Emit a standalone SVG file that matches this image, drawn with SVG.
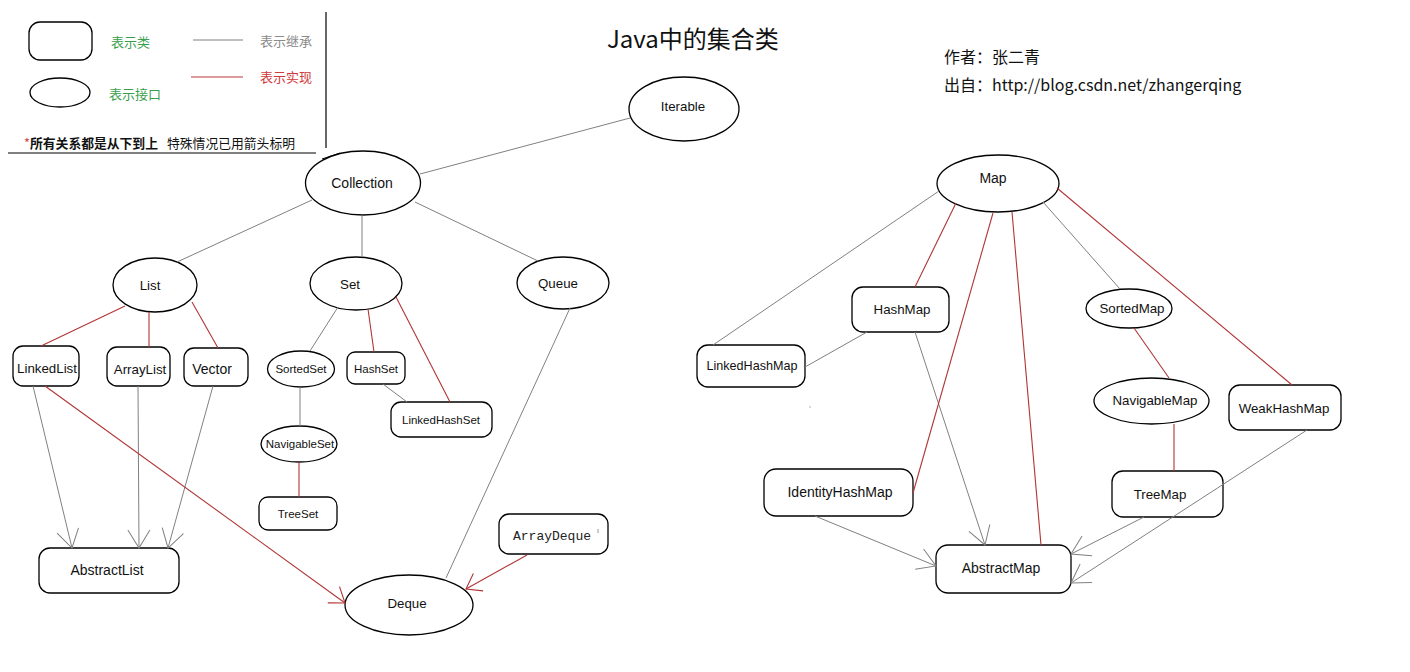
<svg xmlns="http://www.w3.org/2000/svg" width="1410" height="672" viewBox="0 0 1410 672">
<defs>
<style>
.n{fill:#fff;stroke:#000;stroke-width:1.3}
.t{font-family:"Liberation Sans",Arial,sans-serif;font-size:14px;fill:#111;text-anchor:middle}
.s13{font-size:13.3px}
.s12{font-size:12px}
.s11{font-size:11.5px}
.g{stroke:#808080;stroke-width:1;fill:none}
.r{stroke:#b03535;stroke-width:1.1;fill:none}
.cjk{font-family:"Noto Sans CJK SC","Noto Sans",sans-serif}
</style>
<marker id="ag" markerUnits="userSpaceOnUse" markerWidth="40" markerHeight="40" viewBox="-22 -20 24 40" refX="0" refY="0" orient="auto">
<path d="M-18,-11 L0,0 L-18,11" fill="none" stroke="#808080" stroke-width="1"/>
</marker>
<marker id="ar" markerUnits="userSpaceOnUse" markerWidth="40" markerHeight="40" viewBox="-22 -20 24 40" refX="0" refY="0" orient="auto">
<path d="M-14,-10 L0,0 L-14,10" fill="none" stroke="#b03535" stroke-width="1.1"/>
</marker>
</defs>
<rect width="1410" height="672" fill="#fff"/>

<g id="legend">
<rect class="n" x="29" y="22" width="63" height="38" rx="11"/>
<text class="cjk" x="111" y="47" font-size="13" fill="#3a9e4c">表示类</text>
<ellipse class="n" cx="60" cy="92.5" rx="30" ry="14.5"/>
<text class="cjk" x="109" y="99" font-size="13" fill="#3a9e4c">表示接口</text>
<line x1="193" y1="40" x2="243" y2="40" stroke="#808080" stroke-width="1"/>
<text class="cjk" x="260" y="46" font-size="13" fill="#8a8a8a">表示继承</text>
<line x1="191" y1="77" x2="243" y2="77" stroke="#c03838" stroke-width="1.1"/>
<text class="cjk" x="260" y="82" font-size="13" fill="#d03a3a">表示实现</text>
<text class="cjk" x="24" y="148" font-size="12.8" fill="#111"><tspan fill="#d03a3a">*</tspan><tspan font-weight="bold">所有关系都是从下到上</tspan><tspan x="167">特殊情况已用箭头标明</tspan></text>
<line x1="8" y1="153" x2="316" y2="153" stroke="#000" stroke-width="1.2"/>
<line x1="326" y1="12" x2="326" y2="148" stroke="#000" stroke-width="1.2"/>
<line x1="322" y1="159" x2="340" y2="153" stroke="#000" stroke-width="1"/>
</g>

<g id="title">
<text class="cjk" x="607" y="48" font-size="24" fill="#111">Java中的集合类</text>
</g>
<g id="author">
<text class="cjk" x="944" y="63" font-size="16" fill="#111">作者：张二青</text>
<text class="cjk" x="944" y="91" font-size="16" fill="#111">出自：http://blog.csdn.net/zhangerqing</text>
</g>

<g id="Iterable"><ellipse class="n" cx="684" cy="109" rx="55" ry="32"/><text class="t s13" x="683" y="111">Iterable</text></g>
<g id="Collection"><ellipse class="n" cx="363" cy="183" rx="57.5" ry="32"/><text class="t" x="362" y="188">Collection</text></g>
<g id="List"><ellipse class="n" cx="155" cy="285" rx="42" ry="27"/><text class="t s13" x="150" y="290">List</text></g>
<g id="Set"><ellipse class="n" cx="356" cy="283.5" rx="46" ry="26.5"/><text class="t s13" x="350" y="289">Set</text></g>
<g id="Queue"><ellipse class="n" cx="563" cy="283" rx="46" ry="26"/><text class="t s13" x="558" y="288">Queue</text></g>
<g id="LinkedList"><rect class="n" x="13" y="346" width="66" height="40" rx="10"/><text class="t s13" x="47" y="373">LinkedList</text></g>
<g id="ArrayList"><rect class="n" x="107" y="347" width="63" height="39" rx="10"/><text class="t s13" x="140" y="374">ArrayList</text></g>
<g id="Vector"><rect class="n" x="184" y="348" width="64" height="38" rx="10"/><text class="t" x="212" y="374">Vector</text></g>
<g id="SortedSet"><ellipse class="n" cx="301" cy="369" rx="33.5" ry="18"/><text class="t s11" x="301" y="373">SortedSet</text></g>
<g id="HashSet"><rect class="n" x="347" y="352" width="58" height="32" rx="8"/><text class="t s11" x="376" y="373">HashSet</text></g>
<g id="LinkedHashSet"><rect class="n" x="391" y="402" width="101" height="35" rx="10"/><text class="t s11" x="441" y="424">LinkedHashSet</text></g>
<g id="NavigableSet"><ellipse class="n" cx="299" cy="444" rx="38" ry="18"/><text class="t s11" x="300" y="448">NavigableSet</text></g>
<g id="TreeSet"><rect class="n" x="259" y="497" width="78" height="33" rx="9"/><text class="t s11" x="298" y="518">TreeSet</text></g>
<g id="AbstractList"><rect class="n" x="39" y="548" width="140" height="45" rx="11"/><text class="t" x="107" y="575">AbstractList</text></g>
<g id="Deque"><ellipse class="n" cx="409" cy="605" rx="64" ry="30"/><text class="t s13" x="407" y="608">Deque</text></g>
<g id="ArrayDeque"><rect class="n" x="499" y="514" width="109" height="40" rx="10"/><text x="513" y="540" font-family="'Liberation Mono','Courier New',monospace" font-size="13" fill="#222">ArrayDeque</text><line x1="598" y1="529" x2="598" y2="533" stroke="#999" stroke-width="1"/></g>

<g id="Map"><ellipse class="n" cx="998" cy="183.5" rx="61" ry="28.5"/><text class="t" x="993" y="183">Map</text></g>
<g id="HashMap"><rect class="n" x="852" y="287" width="97" height="45" rx="11"/><text class="t s13" x="902" y="314">HashMap</text></g>
<g id="LinkedHashMap"><rect class="n" x="697" y="345" width="108" height="42" rx="11"/><text class="t" x="752" y="370" style="font-size:12.6px">LinkedHashMap</text></g>
<g id="SortedMap"><ellipse class="n" cx="1129" cy="308.5" rx="43" ry="19.5"/><text class="t s13" x="1132" y="313">SortedMap</text></g>
<g id="NavigableMap"><ellipse class="n" cx="1151.5" cy="401" rx="57.5" ry="23"/><text class="t s13" x="1155" y="405">NavigableMap</text></g>
<g id="WeakHashMap"><rect class="n" x="1229" y="385" width="112" height="45" rx="11"/><text class="t s13" x="1284" y="413">WeakHashMap</text></g>
<g id="IdentityHashMap"><rect class="n" x="764" y="469" width="149" height="47" rx="12"/><text class="t" x="840" y="497">IdentityHashMap</text></g>
<g id="TreeMap"><rect class="n" x="1112" y="471" width="111" height="46" rx="11"/><text class="t s13" x="1160" y="499">TreeMap</text></g>
<g id="AbstractMap"><rect class="n" x="936" y="545" width="135" height="48" rx="12"/><text class="t" x="1001" y="573">AbstractMap</text></g>
<circle cx="810" cy="407" r="0.7" fill="#999"/>

<g id="connectors">
<line class="g" x1="420" y1="174" x2="630" y2="118"/>
<line class="g" x1="312" y1="200" x2="177" y2="262"/>
<line class="g" x1="362" y1="215" x2="362" y2="257"/>
<line class="g" x1="415" y1="202" x2="538" y2="261"/>
<line class="g" x1="338" y1="307" x2="310" y2="351"/>
<line class="g" x1="300" y1="387" x2="300" y2="426"/>
<line class="g" x1="383" y1="384" x2="407" y2="402"/>
<line class="g" x1="33" y1="386" x2="72" y2="548" marker-end="url(#ag)"/>
<line class="g" x1="138" y1="386" x2="139" y2="548" marker-end="url(#ag)"/>
<line class="g" x1="213" y1="386" x2="168" y2="548" marker-end="url(#ag)"/>
<line class="g" x1="570" y1="308" x2="446" y2="578"/>
<line class="g" x1="939" y1="191" x2="713" y2="345"/>
<line class="g" x1="867" y1="332" x2="805" y2="367"/>
<line class="g" x1="1043" y1="202" x2="1120" y2="289"/>
<line class="g" x1="915" y1="332" x2="985" y2="545" marker-end="url(#ag)"/>
<line class="g" x1="815" y1="516" x2="936" y2="566" marker-end="url(#ag)"/>
<line class="g" x1="1144" y1="517" x2="1071" y2="554" marker-end="url(#ag)"/>
<line class="g" x1="1307" y1="430" x2="1071" y2="583" marker-end="url(#ag)"/>

<line class="r" x1="125" y1="306" x2="41" y2="346"/>
<line class="r" x1="149" y1="312" x2="149" y2="347"/>
<line class="r" x1="192" y1="302" x2="218" y2="348"/>
<line class="r" x1="368" y1="309" x2="374" y2="352"/>
<line class="r" x1="396" y1="297" x2="450" y2="402"/>
<line class="r" x1="299" y1="462" x2="299" y2="497"/>
<line class="r" x1="45" y1="386" x2="345" y2="603" marker-end="url(#ar)"/>
<line class="r" x1="527" y1="555" x2="466" y2="589" marker-end="url(#ar)"/>
<line class="r" x1="956" y1="203" x2="915" y2="287"/>
<line class="r" x1="993" y1="213" x2="913" y2="493"/>
<line class="r" x1="1012" y1="212" x2="1041" y2="545"/>
<line class="r" x1="1057" y1="188" x2="1292" y2="385"/>
<line class="r" x1="1134" y1="328" x2="1169" y2="378"/>
<line class="r" x1="1174" y1="424" x2="1174" y2="471"/>
</g>
</svg>
